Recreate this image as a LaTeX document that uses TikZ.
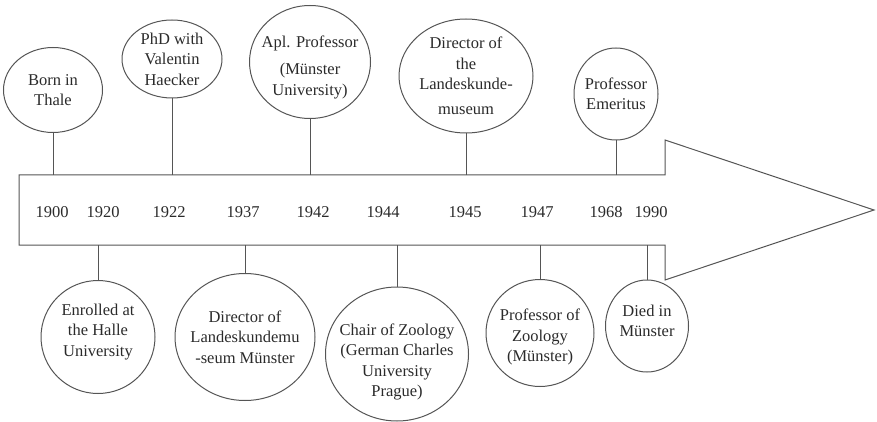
\documentclass[tikz,border=0pt]{standalone}
\usepackage{fontspec}
\setmainfont{Liberation Serif}
\usetikzlibrary{shapes.geometric}
\definecolor{linegray}{HTML}{555555}
\definecolor{textgray}{HTML}{2A2A2A}
\tikzset{
  event/.style 2 args={draw=linegray, line width=1pt, ellipse, inner sep=0pt,
    minimum width=#1pt, minimum height=#2pt},
  txt/.style={align=center, text=textgray, inner sep=0pt},
  year/.style={text=textgray, inner sep=0pt},
  link/.style={draw=linegray, line width=1pt},
}

\begin{document}
\begin{tikzpicture}[x=1pt, y=-1pt, font=\fontsize{16.5}{20.5}\selectfont]
  \useasboundingbox (0,0) rectangle (877,422);

  % --- flecha principal ---
  \draw[link, line join=miter] (19,175) -- (665,175) -- (665,140) -- (874,210)
    -- (665,280) -- (665,245) -- (19,245) -- cycle;
  \coordinate (bartop) at (0,175);
  \coordinate (barbot) at (0,245);

  % --- años ---
  \node[year] (y1900) at (52,212) {1900};
  \node[year] (y1920) at (103,212) {1920};
  \node[year] (y1922) at (169,212) {1922};
  \node[year] (y1937) at (243,212) {1937};
  \node[year] (y1942) at (313,212) {1942};
  \node[year] (y1944) at (383,212) {1944};
  \node[year] (y1945) at (465,212) {1945};
  \node[year] (y1947) at (537,212) {1947};
  \node[year] (y1968) at (606,212) {1968};
  \node[year] (y1990) at (651,212) {1990};

  % --- eventos arriba ---
  \node[event={99}{85}, label={[txt]center:{Born in\\Thale}}] (born) at (53,90) {};
  \node[event={100}{78}, label={[txt]center:{PhD with\\Valentin\\Haecker}}] (phd) at (172,59) {};
  \node[event={121}{113}, label={[txt, yshift=-5pt]center:{Apl. Professor\\[7pt](Münster\\University)}}] (apl) at (310,62) {};
  \node[event={134}{114}, label={[txt]center:{Director of\\the\\Landeskunde-\\[4pt]museum}}] (dirmus) at (466,76) {};
  \node[event={84}{92}, label={[txt]center:{Professor\\Emeritus}}] (emer) at (616,94) {};

  % --- eventos abajo ---
  \node[event={114}{113}, label={[txt, yshift=5pt]center:{Enrolled at\\the Halle\\University}}] (enrol) at (98,337) {};
  \node[event={140}{127}, label={[txt]center:{Director of\\Landeskundemu\\-seum Münster}}] (dirlk) at (245,337) {};
  \node[event={143}{134}, label={[txt, yshift=-8pt]center:{Chair of Zoology\\(German Charles\\University\\Prague)}}] (chair) at (397,354) {};
  \node[event={108}{107}, label={[txt, yshift=-4pt]center:{Professor of\\Zoology\\(Münster)}}] (zool) at (540,333) {};
  \node[event={83}{92}, label={[txt, yshift=5pt]center:{Died in\\Münster}}] (died) at (647,326) {};

  % --- conectores ---
  \foreach \ev in {born, phd, apl, dirmus, emer}
    \draw[link] (\ev.south) -- (\ev.south |- bartop);
  \foreach \ev in {enrol, dirlk, chair, zool, died}
    \draw[link] (\ev.north) -- (\ev.north |- barbot);
\end{tikzpicture}
\end{document}
